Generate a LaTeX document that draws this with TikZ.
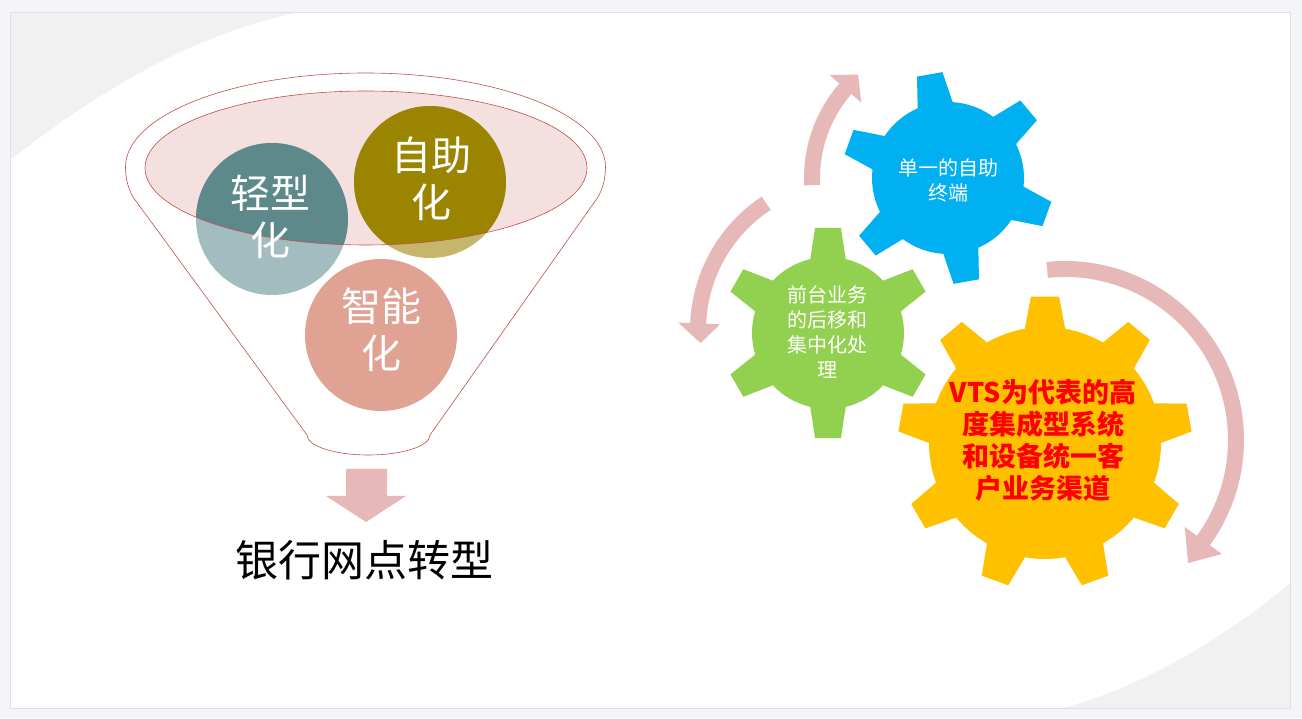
\documentclass[tikz,border=0pt]{standalone}
\usepackage{fontspec}
\newfontfamily\cjk{Noto Sans CJK SC}
\definecolor{pagebg}{HTML}{F3F5F8}
\definecolor{swoosh}{HTML}{F1F1F1}
\definecolor{funnelline}{HTML}{C0504D}
\definecolor{funnelfill}{HTML}{F4E0DF}
\definecolor{tealdark}{HTML}{5E898B}
\definecolor{teallight}{HTML}{A2BCBF}
\definecolor{olivedark}{HTML}{9B8500}
\definecolor{olivelight}{HTML}{C6B66B}
\definecolor{salmon}{HTML}{E0A293}
\definecolor{arrowpink}{HTML}{E6B9B8}
\definecolor{gblue}{HTML}{00B0F0}
\definecolor{ggreen}{HTML}{92D050}
\definecolor{gyellow}{HTML}{FFC000}
\definecolor{vtsred}{HTML}{FF0000}
% #1 x, #2 y, #3 body r, #4 outer r, #5 teeth, #6 offset, #7 base half angle, #8 tip half angle, #9 colour
\newcommand\drawgear[9]{%
  \coordinate (gc) at (#1,#2);
  \pgfmathsetmacro\gstep{360/#5}
  \pgfmathtruncatemacro\glast{#5-1}
  \fill[#9] ([shift={(#6-#7:#3pt)}]gc)
    \foreach \i in {0,...,\glast}{
      -- ([shift={(#6+\i*\gstep-#8:#4pt)}]gc)
      -- ([shift={(#6+\i*\gstep+#8:#4pt)}]gc)
      -- ([shift={(#6+\i*\gstep+#7:#3pt)}]gc)
      arc[start angle={#6+\i*\gstep+#7}, end angle={#6+(\i+1)*\gstep-#7}, radius=#3pt]
    } -- cycle;
}
\begin{document}
\begin{tikzpicture}[x=1pt,y=1pt,
  fline/.style={draw=funnelline, line width=0.6pt},
  circtext/.style={text=white, font=\cjk\fontsize{40pt}{47pt}\selectfont, align=center, inner sep=0pt},
  geartext/.style={text=white, font=\cjk\fontsize{20pt}{25pt}\selectfont, align=center, inner sep=0pt},
  vtstext/.style={text=vtsred, font=\cjk\bfseries\fontsize{27pt}{32pt}\selectfont, align=center, inner sep=0pt},
  arrowband/.style={draw=arrowpink, line width=16pt},
  arrowhead/.style={fill=arrowpink}]
\useasboundingbox (0,0) rectangle (1302,718);
% page and slide
\fill[pagebg] (0,0) rectangle (1302,718);
\fill[white] (10,10) rectangle (1290,706);
\fill[swoosh] (10,706) -- (10,558) .. controls (80,612) and (180,682) .. (300,706) -- cycle;
\fill[swoosh] (1290,10) -- (1290,135) .. controls (1240,92) and (1150,32) .. (1062,10) -- cycle;
\draw[draw=black!12, line width=0.8pt] (10,10) rectangle (1290,706);

% funnel outline
\draw[fline] (125.5,551) arc[start angle=180, end angle=0, x radius=240pt, y radius=94pt]
  .. controls (605.5,538) and (602,528) .. (598,521)
  -- (430,283)
  arc[start angle=0, end angle=-180, x radius=61.5pt, y radius=20pt]
  -- (133,521) .. controls (129,528) and (125.5,538) .. (125.5,551) -- cycle;
% inner ellipse fill
\coordinate (ell) at (366,550);
\fill[funnelfill] (ell) ellipse[x radius=221pt, y radius=77pt];
% circles, light parts
\coordinate (cq) at (272,499);
\coordinate (cz) at (430,536);
\coordinate (cn) at (381,383);
\fill[teallight] (cq) circle[radius=76pt];
\fill[olivelight] (cz) circle[radius=76pt];
\begin{scope}
  \clip (ell) ellipse[x radius=221pt, y radius=77pt];
  \fill[tealdark] (cq) circle[radius=76pt];
  \fill[olivedark] (cz) circle[radius=76pt];
\end{scope}
\draw[fline] (ell) ellipse[x radius=221pt, y radius=77pt];
\fill[salmon] (cn) circle[radius=76pt];
\node[circtext] (tq) at (270,501) {轻型\\化};
\node[circtext] (tz) at (431,539) {自助\\化};
\node[circtext] (tn) at (381,388) {智能\\化};

% down arrow
\fill[arrowpink] (346,249) -- (387,249) -- (387,222) -- (406,222) -- (366,196) -- (326,222) -- (346,222) -- cycle;
\node[font=\cjk\fontsize{43pt}{50pt}\selectfont, inner sep=0pt] (title) at (364,158) {银行网点转型};

% gears
\drawgear{948}{540}{76}{106}{6}{-20}{13.5}{7}{gblue}
\drawgear{828}{385}{76}{106}{6}{30}{13.5}{7}{ggreen}
\drawgear{1045}{275}{116}{147}{9}{10}{10}{5.5}{gyellow}
\node[geartext] (tb) at (948,538) {单一的自助\\终端};
\node[geartext] (tg) at (827,385.5) {前台业务\\的后移和\\集中化处\\理};
\node[vtstext] (ty) at (1043,277.5) {VTS为代表的高\\度集成型系统\\和设备统一客\\户业务渠道};

% circular arrows
\coordinate (a1) at (948,540);
\draw[arrowband] ([shift={(183:136pt)}]a1) arc[start angle=183, end angle=138.5, radius=136pt];
\fill[arrowhead] ([shift={(139:115pt)}]a1) -- ([shift={(139:157pt)}]a1) -- ([shift={(131:137pt)}]a1) -- cycle;

\coordinate (a2) at (850,388);
\draw[arrowband] ([shift={(123.5:152pt)}]a2) arc[start angle=123.5, end angle=178, radius=152pt];
\fill[arrowhead] ([shift={(177.5:130pt)}]a2) -- ([shift={(177.5:172pt)}]a2) -- ([shift={(185:150pt)}]a2) -- cycle;

\coordinate (a3) at (1065,278);
\draw[arrowband] ([shift={(96:171pt)}]a3) arc[start angle=96, end angle=-36.5, radius=171pt];
\fill[arrowhead] ([shift={(-36:148pt)}]a3) -- ([shift={(-36:194pt)}]a3) -- ([shift={(-45:174pt)}]a3) -- cycle;
\end{tikzpicture}
\end{document}
